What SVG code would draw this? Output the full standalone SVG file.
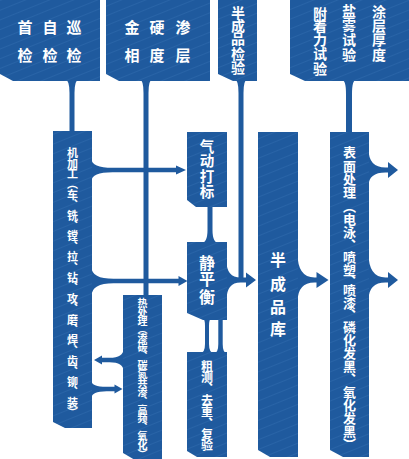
<svg xmlns="http://www.w3.org/2000/svg" width="409" height="459" viewBox="0 0 409 459">
<defs>
<pattern id="tex" patternUnits="userSpaceOnUse" width="9" height="9" patternTransform="rotate(-22)">
<rect width="9" height="9" fill="#1f5a9e"/>
<line x1="0" y1="0.5" x2="9" y2="0.5" stroke="#2964a7" stroke-width="1"/>
</pattern>
</defs>
<style>
.b{fill:url(#tex)}
.c{fill:#1f5a9e}
.t{fill:#ffffff;font-family:"Noto Sans CJK SC","Noto Sans",sans-serif;font-weight:bold}
.v{writing-mode:vertical-rl}
</style>
<rect width="409" height="459" fill="#ffffff"/>
<g id="connectors" class="c">
<path d="M65.5,80 Q69.5,80 69.5,93 V132 H74.5 V93 Q74.5,80 78.5,80 Z"/>
<path d="M140,80 Q143.5,80 143.5,93 V296 H148.5 V93 Q148.5,80 152,80 Z"/>
<path d="M235,80 Q238.5,80 238.5,93 V282 H243.5 V93 Q243.5,80 247,80 Z"/>
<path d="M342,80 Q346,80 346,94 V132 H352 V94 Q352,80 356,80 Z"/>
<path d="M207.5,206 V230 Q207.5,243 201,243 H219 Q212.5,243 212.5,230 V206 Z"/>
<path d="M203,319 Q205,319 205,326 V344 Q205,353 200,353 H214 Q209,353 209,344 V326 Q209,319 211,319 Z"/>
<path d="M218.3,319 V344 Q218.3,353 214,353 H227 Q222.7,353 222.7,344 V319 Z"/>
<path d="M91.5,159 Q91.5,167.8 112.5,167.8 H176 V165.5 L186,170 L176,174.5 V172.2 H112.5 Q91.5,172.2 91.5,181 Z"/>
<path d="M91.5,267 Q91.5,278.8 113.5,278.8 H178.5 V276 L187.5,281 L178.5,286 V283.2 H113.5 Q91.5,283.2 91.5,296 Z"/>
<path d="M123.5,349 Q123.5,357.8 109.5,357.8 H102 V355.5 L94,360 L102,364.5 V362.2 H109.5 Q123.5,362.2 123.5,371 Z"/>
<path d="M91.5,381 Q91.5,386.8 106.5,386.8 H114.5 V384.5 L122.5,389 L114.5,393.5 V391.2 H106.5 Q91.5,391.2 91.5,398 Z"/>
<path d="M226.5,261 Q226.5,277.5 240.5,277.5 H246 V272.5 L256,280 L246,287.5 V282.5 H240.5 Q226.5,282.5 226.5,300 Z"/>
<path d="M297.5,253 Q297.5,277.5 314.5,277.5 H316.5 V272 L328.5,280 L316.5,288 V282.5 H314.5 Q297.5,282.5 297.5,302 Z"/>
<path d="M368.5,149 Q368.5,167.5 385.5,167.5 H388 V162 L398,170 L388,178 V172.5 H385.5 Q368.5,172.5 368.5,186 Z"/>
<path d="M368.5,253 Q368.5,277.5 385.5,277.5 H388 V272 L398,280 L388,288 V282.5 H385.5 Q368.5,282.5 368.5,300 Z"/>
</g>
<g id="inspect">
<path class="b" d="M0,0 H100 V81 H13 L0,74 Z"/>
<text class="t" font-size="15" text-anchor="middle" x="25 50 74" y="33">首自巡</text>
<text class="t" font-size="15" text-anchor="middle" x="25 50 74" y="61">检检检</text>
</g>
<g id="metallurgy">
<path class="b" d="M106,0 H210 V81 H119 L106,74 Z"/>
<text class="t" font-size="15" text-anchor="middle" x="132 157 183" y="33">金硬渗</text>
<text class="t" font-size="15" text-anchor="middle" x="132 157 183" y="61">相度层</text>
</g>
<g id="semi-inspect">
<path class="b" d="M218,0 H257 V81 H233 L218,74 Z"/>
<text class="t v" font-size="14" x="238" y="5.5 19 32 47 61">半成品检验</text>
</g>
<g id="coating-tests">
<path class="b" d="M290,0 H409 V81 H305 L290,74 Z"/>
<text class="t v" font-size="14" x="320" y="6.5 19 32.5 47 61.5">附着力试验</text>
<text class="t v" font-size="14" x="349" y="4 18 33 48">盐雾试验</text>
<text class="t v" font-size="14" x="379" y="5 19 33 48">涂层厚度</text>
</g>
<g id="machining">
<path class="b" d="M53,131 H92 V428 H65 L53,422 Z"/>
<text class="t v" font-size="11" x="72.5" y="147.5 157.9 168.3 178.7 189.1 199.5 209.9 220.3 230.7 241.1 251.5 261.9 272.3 282.7 293.1 303.5 313.9 324.3 334.7 345.1 355.5 365.9 376.3 386.7 397.1 407.5">机加工（车、铣、镗、拉、钻、攻、磨、焊、齿、铆、装）</text>
</g>
<g id="heat-treatment">
<path class="b" d="M123,295 H162 V460 H135 L123,453 Z"/>
<text class="t v" font-size="10" x="142.5" y="298 306.9 315.8 324.7 333.6 342.5 351.4 360.3 369.2 378.1 387 395.9 404.8 413.7 422.6 431.5 440.4 449.3">热处理（渗碳、碳氮共渗、高频、氧化）</text>
</g>
<g id="marking">
<path class="b" d="M187,132 H227 V207 H196 L187,200 Z"/>
<text class="t v" font-size="14.5" x="207" y="138.8 152.8 168.8 184.3">气动打标</text>
</g>
<g id="balancing">
<path class="b" d="M187,242 H227 V320 H203 L187,313 Z"/>
<text class="t v" font-size="16" x="207" y="255 271 289">静平衡</text>
</g>
<g id="measure">
<path class="b" d="M187,352 H227 V457 H197 L187,451 Z"/>
<text class="t v" font-size="12" x="207" y="360 371.4 382.8 394.2 405.6 417 428.4 439.8">粗测、去重、复验</text>
</g>
<g id="semi-store">
<path class="b" d="M258,132 H298 V457 H270 L258,450 Z"/>
<text class="t v" font-size="16" x="278" y="252 275.5 299 321">半成品库</text>
</g>
<g id="surface">
<path class="b" d="M330,132 H369 V457 H343 L330,450 Z"/>
<text class="t v" font-size="13" x="349.5" y="146 159.5 172.5 186 199.5 212.5 225.5 238.5 251 264 274.5 284 296.5 308.5 321 334 347 360 373 386 399 412 425 438">表面处理（电泳、喷塑、喷漆、磷化发黑、氧化发黑）</text>
</g>
</svg>
